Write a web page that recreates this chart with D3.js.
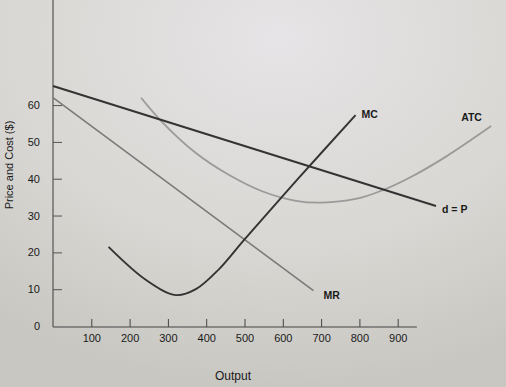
<!DOCTYPE html>
<html>
<head>
<meta charset="utf-8">
<script src="https://cdn.jsdelivr.net/npm/d3@7"></script>
<style>
  body { margin: 0; background: #d6d5d1; }
  svg text { font-family: "Liberation Sans Narrow", "Liberation Sans", Arial, sans-serif; fill: #1a1a1a; }
</style>
</head>
<body>
<svg id="chart" width="506" height="387"></svg>
<script>
const svg = d3.select("svg#chart");
const width = +svg.attr("width");
const height = +svg.attr("height");

// data (output, price)
const xTicks = [100, 200, 300, 400, 500, 600, 700, 800, 900];
const yTicks = [0, 10, 20, 30, 40, 50, 60];
const demandLine = [[0, 65.2], [1000, 32.6]];
const mrLine = [[0, 62], [680, 9.6]];
const mcCurve = [[145, 21.5], [243, 12.5], [321, 8.4], [373, 10], [433, 15.4], [499, 23.4], [640, 40], [790, 57.3]];
const atcCurve = [[230, 62], [285, 55.4], [373, 47], [460, 41], [546, 36.6], [634, 34], [702, 33.5], [790, 34.5], [859, 36.8], [937, 40.6], [1026, 46], [1144, 54.3]];

// background, lighter towards the top
const defs = svg.append("defs");
const grad = defs.append("radialGradient").attr("id", "bg").attr("cx", "55%").attr("cy", "10%").attr("r", "90%");
grad.append("stop").attr("offset", "0%").attr("stop-color", "#e6e4e6");
grad.append("stop").attr("offset", "60%").attr("stop-color", "#d8d7d3");
grad.append("stop").attr("offset", "100%").attr("stop-color", "#c9c7c2");
svg.append("rect").attr("width", width).attr("height", height).attr("fill", "url(#bg)");

const x = d3.scaleLinear([0, 1200], [53, 512.6]);
const y = d3.scaleLinear([0, 88], [326, 2]);

// x axis, ticks pointing up
const xAxis = d3.axisBottom(x).tickValues(xTicks).tickSize(-8).tickPadding(7);
const gx = svg.append("g").attr("transform", "translate(0,327)").call(xAxis);
gx.select(".domain").remove();
gx.append("line").attr("x1", x(0)).attr("x2", x(950)).attr("stroke", "#444").attr("stroke-width", 1.2);
gx.selectAll(".tick line").attr("stroke", "#444");
gx.selectAll(".tick text").attr("font-size", 11).attr("fill", "#1a1a1a");

// y axis, ticks pointing right
const yAxis = d3.axisLeft(y).tickValues(yTicks).tickSize(-9).tickPadding(13);
const gy = svg.append("g").attr("transform", `translate(${x(0)},0)`).call(yAxis);
gy.select(".domain").remove();
gy.append("line").attr("y1", y(0) + 1).attr("y2", 0).attr("stroke", "#555").attr("stroke-width", 1.2);
gy.selectAll(".tick line").attr("stroke", "#555");
gy.selectAll(".tick").filter((d) => d === 0).select("line").remove();
gy.selectAll(".tick text").attr("font-size", 11).attr("fill", "#1a1a1a");

// axis titles
svg.append("text")
  .attr("transform", "translate(13,165) rotate(-90)")
  .attr("text-anchor", "middle")
  .attr("font-size", 11)
  .text("Price and Cost ($)");
svg.append("text")
  .attr("x", 233).attr("y", 380)
  .attr("text-anchor", "middle")
  .attr("font-size", 12)
  .text("Output");

// curves
const straight = d3.line().x((d) => x(d[0])).y((d) => y(d[1]));
const smooth = d3.line().x((d) => x(d[0])).y((d) => y(d[1])).curve(d3.curveCatmullRom.alpha(0.5));

svg.append("path").attr("d", smooth(atcCurve)).attr("fill", "none").attr("stroke", "#9a9a9a").attr("stroke-width", 1.8);
svg.append("path").attr("d", straight(mrLine)).attr("fill", "none").attr("stroke", "#7a7a7a").attr("stroke-width", 1.6);
svg.append("path").attr("d", straight(demandLine)).attr("fill", "none").attr("stroke", "#333").attr("stroke-width", 2);
svg.append("path").attr("d", smooth(mcCurve)).attr("fill", "none").attr("stroke", "#333").attr("stroke-width", 1.9);

// curve labels
const labels = [
  { text: "MC", at: mcCurve[mcCurve.length - 1], dx: 6, dy: 0 },
  { text: "ATC", at: atcCurve[atcCurve.length - 1], dx: -30, dy: -8 },
  { text: "d = P", at: demandLine[1], dx: 6, dy: 4 },
  { text: "MR", at: mrLine[1], dx: 10, dy: 6 }
];
svg.selectAll("text.curveLabel")
  .data(labels)
  .enter()
  .append("text")
  .attr("class", "curveLabel")
  .attr("x", (d) => x(d.at[0]) + d.dx)
  .attr("y", (d) => y(d.at[1]) + d.dy)
  .attr("dominant-baseline", "middle")
  .attr("font-size", 10.5)
  .attr("font-weight", "bold")
  .text((d) => d.text);
</script>
</body>
</html>
